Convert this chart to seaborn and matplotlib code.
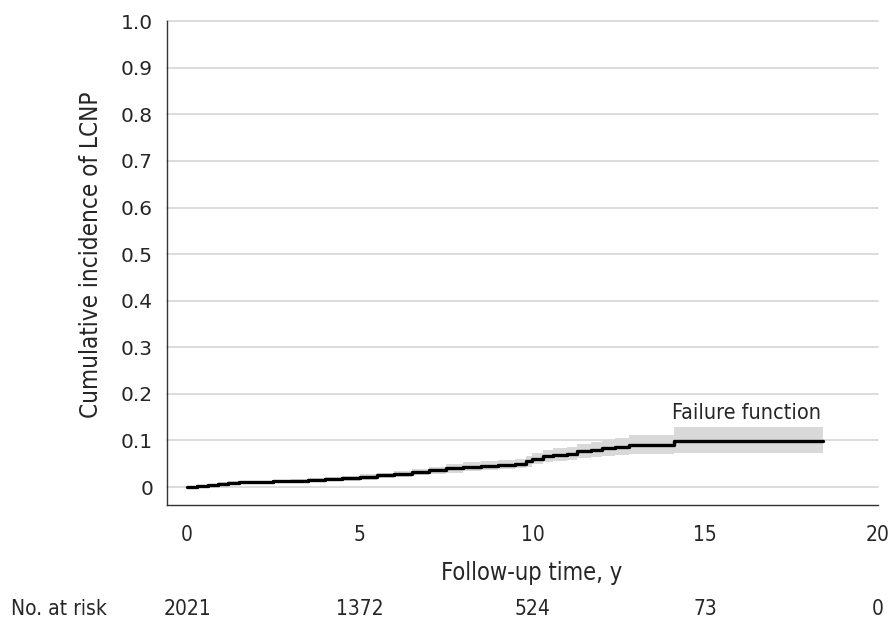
import numpy as np
import pandas as pd
import matplotlib
matplotlib.use("Agg")
import matplotlib.pyplot as plt
import matplotlib.transforms as mtransforms
import seaborn as sns

# step curve of the failure function
time_y = [0.0, 0.3, 0.6, 0.9, 1.2, 1.5, 2.5, 3.0, 3.5, 4.0, 4.5, 5.0, 5.5, 6.0,
          6.5, 7.0, 7.5, 8.0, 8.5, 9.0, 9.5, 9.8, 10.0, 10.3, 10.6, 11.0, 11.3,
          11.7, 12.0, 12.4, 12.8, 14.1, 18.4]
cum_inc = [0.0, 0.002, 0.004, 0.007, 0.009, 0.011, 0.012, 0.013, 0.015, 0.017,
           0.019, 0.022, 0.025, 0.028, 0.032, 0.036, 0.040, 0.044, 0.046, 0.048,
           0.050, 0.055, 0.061, 0.066, 0.068, 0.072, 0.077, 0.080, 0.083, 0.086,
           0.091, 0.098, 0.098]
ci_low = [0.0, 0.0, 0.001, 0.004, 0.006, 0.008, 0.009, 0.009, 0.011, 0.012,
          0.014, 0.016, 0.019, 0.021, 0.025, 0.028, 0.031, 0.035, 0.037, 0.039,
          0.040, 0.044, 0.049, 0.053, 0.055, 0.058, 0.062, 0.064, 0.066, 0.068,
          0.072, 0.074, 0.074]
ci_high = [0.0, 0.004, 0.007, 0.010, 0.012, 0.014, 0.015, 0.017, 0.019, 0.022,
           0.024, 0.028, 0.031, 0.035, 0.039, 0.044, 0.049, 0.053, 0.056, 0.058,
           0.061, 0.067, 0.074, 0.080, 0.083, 0.087, 0.093, 0.097, 0.101, 0.105,
           0.111, 0.128, 0.128]

risk_times = [0, 5, 10, 15, 20]
at_risk = [2021, 1372, 524, 73, 0]

df = pd.DataFrame({"time": time_y, "inc": cum_inc, "lo": ci_low, "hi": ci_high})

sns.set_style("white")
narrow = dict(family="DejaVu Sans", stretch="condensed")

fig = plt.figure(figsize=(8.93, 6.23), dpi=100)
ax = fig.add_axes([0.187, 0.189, 0.796, 0.777])

ax.fill_between(df["time"], df["lo"], df["hi"], step="post",
                color="#d9d9d9", linewidth=0, zorder=2)
sns.lineplot(data=df, x="time", y="inc", drawstyle="steps-post",
             color="black", linewidth=2.4, ax=ax, zorder=3)

ax.set_xlim(-0.58, 20)
ax.set_ylim(-0.039, 1.0)
ax.set_yticks(np.arange(0, 1.01, 0.1))
ax.set_yticklabels(["0"] + [f"{v:.1f}" for v in np.arange(0.1, 1.01, 0.1)])
ax.set_xticks(risk_times)
ax.set_xticklabels([str(t) for t in risk_times], fontsize=15, **narrow)
for v in np.arange(0, 1.01, 0.1):
    ax.axhline(v, color="#dcdcdc", linewidth=1.4, zorder=1, clip_on=False)

for s in ["top", "right"]:
    ax.spines[s].set_visible(False)
for s in ["left", "bottom"]:
    ax.spines[s].set_color("#333333")
    ax.spines[s].set_linewidth(1.0)
ax.tick_params(axis="both", direction="out", length=6, width=1.0, color="#333333")
ax.tick_params(axis="y", labelsize=14.5, pad=4)
ax.tick_params(axis="x", pad=8)

ax.set_ylabel("Cumulative incidence of LCNP", fontsize=17.4, labelpad=13,
              **narrow)
ax.yaxis.label.set_y(0.518)
ax.set_xlabel("Follow-up time, y", fontsize=17, labelpad=12, **narrow)
ax.xaxis.label.set_x(0.513)

ax.text(18.35, 0.16, "Failure function", ha="right", va="center",
        fontsize=15.5, **narrow)

# number at risk row
row = mtransforms.blended_transform_factory(ax.transData, fig.transFigure)
for t, n in zip(risk_times, at_risk):
    ax.text(t, 1 - 609 / 623, str(n), ha="center", va="center",
            fontsize=15, transform=row, clip_on=False, **narrow)
fig.text(0.012, 1 - 609 / 623, "No. at risk", ha="left", va="center",
         fontsize=15, **narrow)

fig.savefig("out.png", dpi=100)
